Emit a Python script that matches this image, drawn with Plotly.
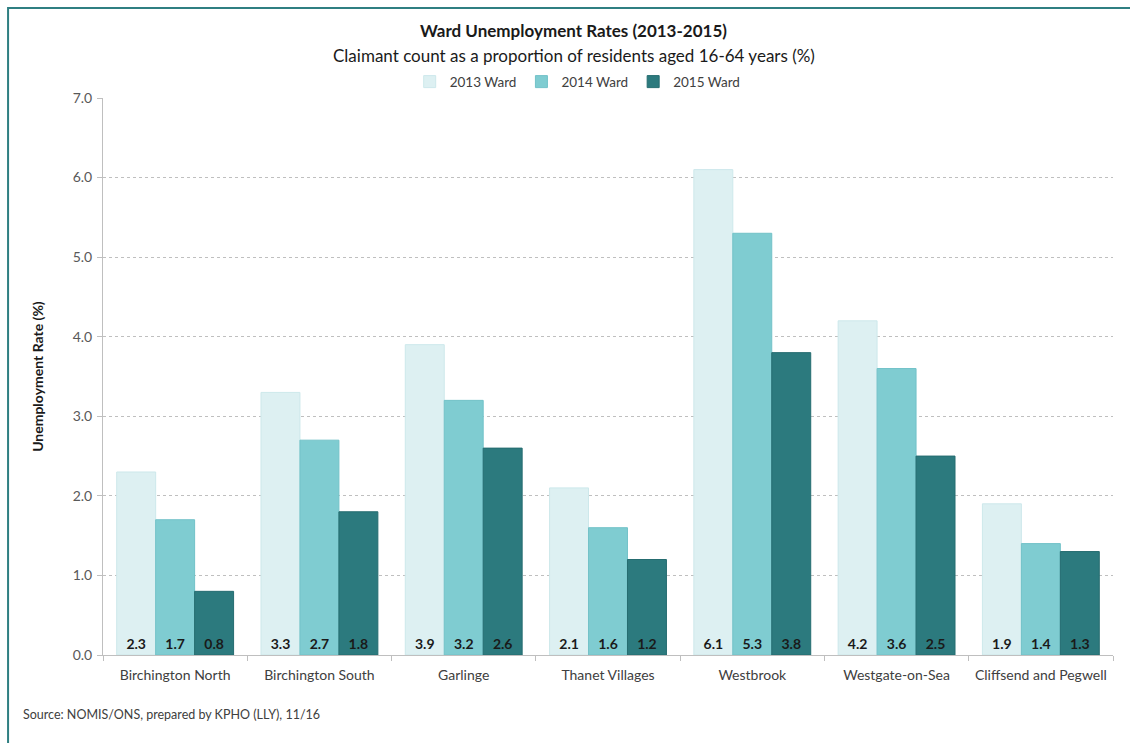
import plotly.graph_objects as go

# Ward names and claimant-count rates (% of residents aged 16-64)
wards = ["Birchington North", "Birchington South", "Garlinge", "Thanet Villages",
         "Westbrook", "Westgate-on-Sea", "Cliffsend and Pegwell"]
rate_2013 = [2.3, 3.3, 3.9, 2.1, 6.1, 4.2, 1.9]
rate_2014 = [1.7, 2.7, 3.2, 1.6, 5.3, 3.6, 1.4]
rate_2015 = [0.8, 1.8, 2.6, 1.2, 3.8, 2.5, 1.3]

series_names = ["2013 Ward", "2014 Ward", "2015 Ward"]
series_colors = ["#DDF0F2", "#7FCCD1", "#2C7A7E"]
series_lines = ["#CDE8EB", "#72C2C8", "#256C70"]
y_ticks = [0, 1, 2, 3, 4, 5, 6, 7]

FONT = "Lato, 'Open Sans', sans-serif"

fig = go.Figure()
for name, vals, col, lcol in zip(series_names, [rate_2013, rate_2014, rate_2015],
                                 series_colors, series_lines):
    fig.add_trace(go.Bar(
        x=wards, y=vals, name=name,
        marker=dict(color=col, line=dict(color=lcol, width=1)),
        text=[f"{v:.1f}" for v in vals],
        textposition="inside",
        insidetextanchor="start",
        textangle=0,
        insidetextfont=dict(family=FONT, size=14, color="#1A1A1A", weight="bold"),
        cliponaxis=False,
    ))

fig.update_layout(
    width=1130, height=743,
    margin=dict(l=103, r=17, t=98, b=88),
    paper_bgcolor="white", plot_bgcolor="white",
    barmode="group", bargap=0.19, bargroupgap=0,
    font=dict(family=FONT, size=14, color="#404040"),
    showlegend=True,
    legend=dict(orientation="h", x=0.47, xanchor="center", y=1.029, yanchor="middle",
                font=dict(size=13.5, color="#404040"), itemwidth=30,
                traceorder="normal", bgcolor="rgba(0,0,0,0)"),
    xaxis=dict(
        showline=True, linecolor="#BFBFBF", linewidth=1,
        ticks="outside", ticklen=5, tickcolor="#BFBFBF", tickson="boundaries",
        tickfont=dict(size=14, color="#404040"), ticklabelstandoff=7,
        showgrid=False,
    ),
    yaxis=dict(
        range=[0, 7], tickvals=y_ticks, tickformat=".1f",
        showline=True, linecolor="#BFBFBF", linewidth=1,
        ticks="outside", ticklen=5, tickcolor="#BFBFBF",
        tickfont=dict(size=14, color="#595959"), ticklabelstandoff=2,
        showgrid=True, gridcolor="#BFBFBF", gridwidth=1, griddash="dot",
        zeroline=False,
    ),
    annotations=[
        dict(text="<b>Ward Unemployment Rates (2013-2015)</b>", xref="paper", yref="paper",
             x=0.466, y=1.122, xanchor="center", yanchor="middle", showarrow=False,
             font=dict(size=17, color="#1A1A1A")),
        dict(text="Claimant count as a proportion of residents aged 16-64 years (%)",
             xref="paper", yref="paper", x=0.466, y=1.077, xanchor="center",
             yanchor="middle", showarrow=False, font=dict(size=17, color="#1A1A1A")),
        dict(text="<b>Unemployment Rate (%)</b>", xref="paper", yref="paper",
             x=-0.065, y=0.5, xanchor="center", yanchor="middle", textangle=-90,
             showarrow=False, font=dict(size=14, color="#1A1A1A")),
        dict(text="Source: NOMIS/ONS, prepared by KPHO (LLY), 11/16", xref="paper",
             yref="paper", x=-0.081, y=-0.106, xanchor="left", yanchor="middle",
             showarrow=False, font=dict(size=12.5, color="#404040")),
    ],
    shapes=[
        dict(type="rect", xref="paper", yref="paper", x0=-0.094, y0=-0.3,
             x1=1.1, y1=1.1616, line=dict(color="#2F7F82", width=2),
             fillcolor="rgba(0,0,0,0)", layer="below"),
    ],
)

fig.write_html("out.html")
